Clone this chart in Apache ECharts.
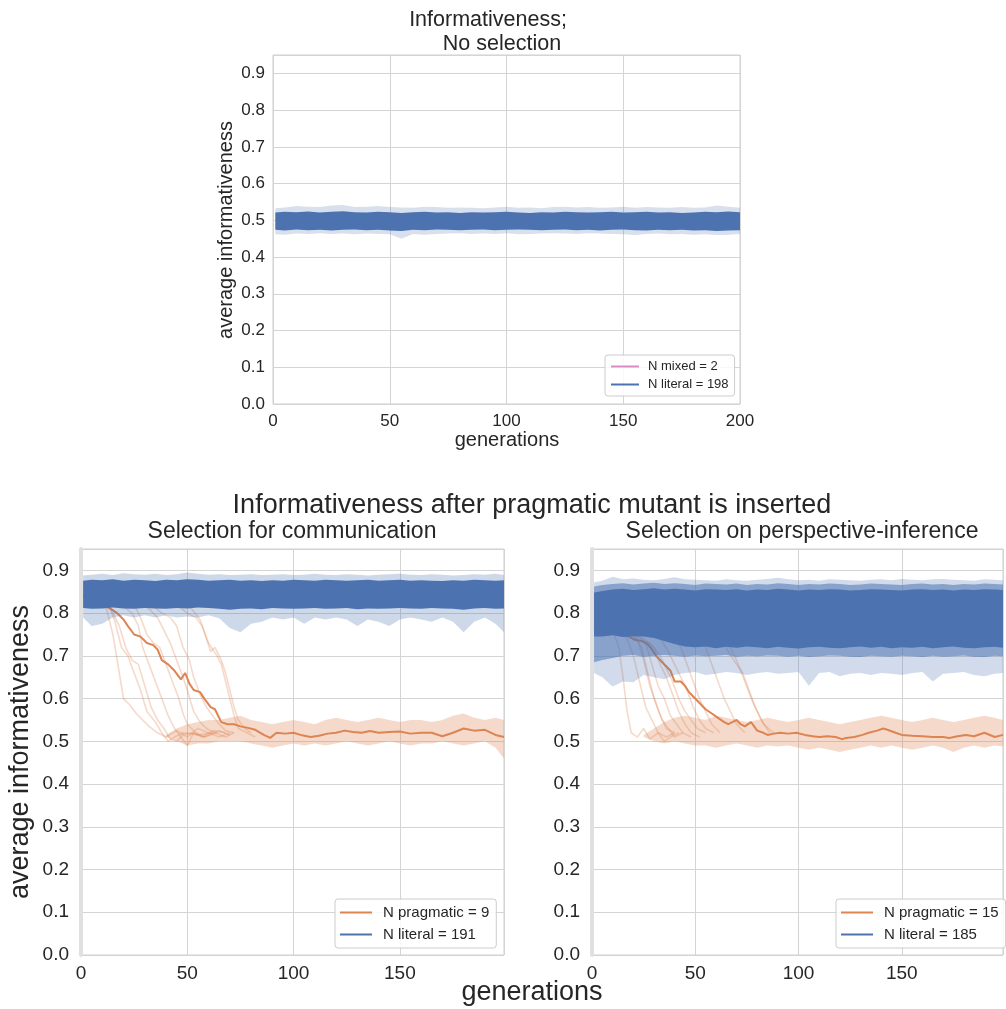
<!DOCTYPE html>
<html><head><meta charset="utf-8">
<script src="https://cdn.jsdelivr.net/npm/echarts@6/dist/echarts.min.js"></script>
<style>html,body{margin:0;padding:0;background:#fff}#c{width:1006px;height:1009px}</style>
</head><body><div id="c"></div><script>
// ---------- DATA ----------
const yTicks=[0.0,0.1,0.2,0.3,0.4,0.5,0.6,0.7,0.8,0.9];
const xTicks=[0,50,100,150,200];
const genTop=[1,5,10,15,20,25,30,35,40,45,50,55,60,65,70,75,80,85,90,95,100,105,110,115,120,125,130,135,140,145,150,155,160,165,170,175,180,185,190,195,200];
const genBot=[1,5,10,15,20,25,30,35,40,45,50,55,60,65,70,75,80,85,90,95,100,105,110,115,120,125,130,135,140,145,150,155,160,165,170,175,180,185,190,195,199];

// top panel: literal band (no selection)
const topCoreHi=[0.521,0.523,0.522,0.524,0.521,0.523,0.525,0.522,0.521,0.523,0.522,0.520,0.522,0.523,0.521,0.522,0.520,0.522,0.521,0.522,0.523,0.521,0.520,0.522,0.521,0.523,0.522,0.521,0.522,0.523,0.521,0.522,0.523,0.521,0.522,0.520,0.521,0.523,0.522,0.524,0.522];
const topCoreLo=[0.474,0.472,0.475,0.473,0.474,0.472,0.474,0.475,0.473,0.474,0.472,0.471,0.474,0.473,0.475,0.474,0.473,0.474,0.475,0.473,0.474,0.475,0.474,0.473,0.474,0.475,0.473,0.474,0.472,0.474,0.475,0.473,0.472,0.474,0.473,0.474,0.472,0.473,0.471,0.472,0.473];
const topOutHi=[0.533,0.535,0.539,0.537,0.536,0.540,0.542,0.536,0.537,0.539,0.536,0.535,0.534,0.537,0.536,0.534,0.535,0.534,0.533,0.535,0.537,0.534,0.535,0.533,0.536,0.537,0.535,0.536,0.534,0.535,0.537,0.534,0.536,0.535,0.534,0.536,0.534,0.535,0.540,0.537,0.534];
const topOutLo=[0.462,0.461,0.464,0.463,0.465,0.463,0.464,0.462,0.464,0.463,0.462,0.450,0.463,0.461,0.463,0.464,0.465,0.463,0.464,0.463,0.465,0.462,0.463,0.464,0.465,0.464,0.463,0.465,0.464,0.463,0.462,0.460,0.463,0.464,0.462,0.463,0.461,0.462,0.460,0.461,0.463];

// bottom-left: selection for communication, literal band
const blCoreHi=[0.876,0.878,0.877,0.879,0.876,0.878,0.877,0.875,0.878,0.877,0.879,0.878,0.876,0.877,0.878,0.876,0.877,0.875,0.877,0.876,0.878,0.877,0.876,0.878,0.877,0.876,0.877,0.878,0.876,0.877,0.878,0.876,0.877,0.876,0.875,0.877,0.876,0.878,0.877,0.876,0.877];
const blCoreLo=[0.812,0.810,0.811,0.813,0.811,0.810,0.812,0.811,0.810,0.812,0.811,0.813,0.812,0.810,0.808,0.810,0.811,0.809,0.812,0.811,0.810,0.811,0.812,0.810,0.811,0.812,0.809,0.811,0.810,0.811,0.812,0.811,0.810,0.812,0.811,0.810,0.808,0.811,0.812,0.810,0.811];
const blOutHi=[0.888,0.890,0.892,0.889,0.893,0.891,0.890,0.892,0.889,0.891,0.895,0.892,0.890,0.891,0.889,0.890,0.891,0.889,0.890,0.891,0.889,0.890,0.892,0.890,0.889,0.891,0.890,0.888,0.890,0.891,0.892,0.890,0.889,0.891,0.890,0.888,0.889,0.891,0.890,0.892,0.889];
const blOutLo=[0.790,0.770,0.775,0.790,0.795,0.790,0.795,0.790,0.795,0.790,0.792,0.790,0.795,0.788,0.765,0.755,0.775,0.780,0.790,0.785,0.790,0.775,0.790,0.785,0.790,0.785,0.770,0.785,0.780,0.770,0.785,0.790,0.785,0.780,0.790,0.780,0.755,0.780,0.790,0.775,0.755];

// bottom-left: pragmatic runs
const blMean=[[1,0.84],[5,0.835],[10,0.82],[14,0.81],[17,0.80],[20,0.785],[22,0.77],[25,0.75],[28,0.745],[31,0.73],[34,0.725],[36,0.715],[38,0.69],[41,0.68],[44,0.665],[47,0.645],[49,0.66],[51,0.635],[53,0.62],[56,0.615],[58,0.6],[61,0.58],[63,0.575],[66,0.545],[69,0.54],[72,0.54],[75,0.535],[78,0.532],[82,0.527],[86,0.515],[89,0.508],[92,0.52],[96,0.518],[100,0.52],[104,0.514],[108,0.51],[112,0.513],[116,0.518],[120,0.52],[124,0.525],[128,0.522],[132,0.52],[136,0.524],[140,0.52],[145,0.522],[150,0.523],[155,0.518],[160,0.52],[165,0.52],[170,0.512],[175,0.52],[180,0.53],[185,0.525],[190,0.527],[195,0.515],[199,0.51]];
const blRun1=[[1,0.84],[8,0.83],[12,0.81],[15,0.75],[18,0.66],[20,0.6],[23,0.585],[26,0.565],[29,0.55],[32,0.535],[36,0.52],[40,0.51],[45,0.525],[50,0.51],[55,0.53],[60,0.52],[65,0.51],[70,0.52]];
const blRun2=[[1,0.84],[10,0.83],[14,0.81],[18,0.77],[21,0.72],[24,0.69],[27,0.68],[30,0.63],[33,0.58],[36,0.55],[39,0.53],[42,0.505],[45,0.5],[48,0.515],[52,0.52],[58,0.51],[65,0.525],[70,0.515]];
const blRun3=[[1,0.84],[15,0.83],[20,0.815],[24,0.8],[27,0.77],[29,0.72],[32,0.68],[35,0.64],[38,0.6],[41,0.56],[44,0.53],[47,0.51],[50,0.49],[53,0.52],[57,0.51],[62,0.525],[68,0.52]];
const blRun4=[[1,0.84],[20,0.83],[28,0.825],[32,0.81],[36,0.79],[39,0.76],[42,0.73],[45,0.69],[48,0.65],[50,0.62],[53,0.57],[56,0.545],[59,0.53],[63,0.52],[68,0.51],[72,0.52]];
const blRun5=[[1,0.84],[25,0.83],[33,0.82],[38,0.80],[42,0.79],[45,0.77],[48,0.72],[51,0.69],[53,0.65],[56,0.61],[59,0.58],[62,0.56],[65,0.54],[68,0.525],[72,0.52]];
const blRun6=[[1,0.84],[30,0.83],[40,0.825],[45,0.82],[50,0.80],[54,0.79],[57,0.77],[60,0.73],[62,0.715],[64,0.70],[66,0.68],[68,0.64],[70,0.6],[72,0.56],[74,0.53],[78,0.52],[82,0.51]];
const blRun7=[[1,0.84],[35,0.835],[45,0.83],[52,0.81],[56,0.785],[59,0.74],[61,0.71],[63,0.72],[66,0.69],[68,0.66],[70,0.62],[72,0.58],[74,0.55],[77,0.53],[80,0.52]];
const blRun8=[[1,0.84],[10,0.83],[13,0.82],[16,0.78],[19,0.72],[22,0.7],[25,0.66],[28,0.62],[31,0.57],[35,0.545],[38,0.52],[41,0.5],[44,0.51],[48,0.52],[55,0.515],[62,0.52]];
const blRun9=[[1,0.84],[20,0.83],[25,0.82],[28,0.79],[31,0.75],[34,0.73],[37,0.72],[40,0.68],[43,0.64],[46,0.6],[48,0.565],[50,0.54],[54,0.52],[58,0.51],[64,0.52]];
const blBandGen=[40,45,50,55,60,65,70,75,80,85,90,95,100,105,110,115,120,125,130,135,140,145,150,155,160,165,170,175,180,185,190,195,199];
const blBandHi=[0.515,0.53,0.54,0.545,0.55,0.55,0.555,0.56,0.55,0.545,0.54,0.545,0.55,0.545,0.54,0.55,0.555,0.55,0.545,0.55,0.555,0.55,0.545,0.55,0.55,0.545,0.55,0.56,0.565,0.555,0.55,0.555,0.55];
const blBandLo=[0.51,0.50,0.49,0.495,0.495,0.50,0.50,0.50,0.495,0.49,0.485,0.49,0.495,0.49,0.495,0.49,0.495,0.50,0.495,0.49,0.495,0.50,0.495,0.49,0.495,0.495,0.50,0.495,0.49,0.495,0.50,0.485,0.46];

// bottom-right: selection on perspective-inference, literal band
const brCoreHi=[0.848,0.852,0.855,0.857,0.854,0.856,0.858,0.855,0.857,0.855,0.853,0.856,0.855,0.854,0.856,0.853,0.855,0.854,0.857,0.855,0.853,0.855,0.854,0.856,0.855,0.853,0.854,0.856,0.855,0.854,0.853,0.855,0.856,0.854,0.855,0.853,0.855,0.854,0.856,0.855,0.854];
const brCoreLo=[0.745,0.745,0.748,0.744,0.746,0.745,0.742,0.735,0.728,0.722,0.720,0.722,0.718,0.721,0.719,0.722,0.720,0.718,0.721,0.719,0.717,0.720,0.721,0.719,0.718,0.720,0.722,0.719,0.721,0.718,0.720,0.719,0.721,0.718,0.720,0.722,0.719,0.718,0.720,0.721,0.719];
const brMidHi=[0.862,0.866,0.868,0.870,0.867,0.869,0.871,0.868,0.870,0.868,0.866,0.869,0.868,0.867,0.869,0.866,0.868,0.867,0.870,0.868,0.866,0.868,0.867,0.869,0.868,0.866,0.867,0.869,0.868,0.867,0.866,0.868,0.869,0.867,0.868,0.866,0.868,0.867,0.869,0.868,0.867];
const brMidLo=[0.685,0.690,0.695,0.700,0.702,0.698,0.700,0.702,0.700,0.698,0.701,0.699,0.700,0.702,0.698,0.700,0.699,0.701,0.700,0.698,0.700,0.697,0.699,0.701,0.700,0.698,0.697,0.700,0.699,0.698,0.700,0.699,0.697,0.700,0.698,0.699,0.701,0.698,0.697,0.700,0.699];
const brOutHi=[0.872,0.876,0.885,0.879,0.881,0.878,0.877,0.880,0.884,0.879,0.878,0.877,0.876,0.879,0.877,0.876,0.878,0.880,0.883,0.879,0.877,0.878,0.876,0.879,0.878,0.877,0.876,0.878,0.879,0.877,0.880,0.878,0.877,0.879,0.880,0.878,0.877,0.876,0.879,0.878,0.877];
const brOutLo=[0.660,0.650,0.628,0.640,0.638,0.655,0.650,0.645,0.655,0.660,0.662,0.655,0.658,0.662,0.660,0.655,0.660,0.662,0.658,0.660,0.662,0.630,0.660,0.662,0.652,0.658,0.660,0.655,0.660,0.658,0.655,0.660,0.662,0.640,0.658,0.660,0.662,0.655,0.652,0.658,0.660];

// bottom-right: pragmatic runs
const brMean=[[1,0.77],[5,0.765],[10,0.76],[15,0.75],[18,0.745],[21,0.737],[24,0.735],[27,0.727],[29,0.715],[31,0.70],[34,0.685],[36,0.675],[38,0.665],[40,0.64],[43,0.64],[45,0.63],[47,0.615],[49,0.605],[51,0.595],[53,0.585],[55,0.575],[58,0.565],[61,0.555],[64,0.545],[66,0.54],[68,0.545],[70,0.55],[72,0.54],[74,0.535],[77,0.545],[80,0.525],[83,0.52],[85,0.515],[88,0.518],[91,0.52],[95,0.518],[99,0.52],[103,0.515],[107,0.512],[110,0.51],[114,0.512],[118,0.51],[121,0.505],[123,0.508],[127,0.51],[131,0.515],[134,0.52],[138,0.525],[141,0.53],[143,0.527],[147,0.52],[150,0.515],[155,0.513],[160,0.512],[165,0.51],[170,0.51],[173,0.508],[177,0.512],[181,0.515],[185,0.512],[190,0.52],[195,0.51],[199,0.515]];
const brRun1=[[1,0.77],[10,0.76],[13,0.72],[15,0.65],[17,0.57],[19,0.52],[22,0.51],[25,0.53],[28,0.505],[32,0.52],[36,0.51],[40,0.52]];
const brRun2=[[1,0.77],[14,0.76],[17,0.74],[20,0.70],[23,0.64],[26,0.58],[29,0.55],[32,0.52],[35,0.50],[38,0.51],[42,0.52]];
const brRun3=[[1,0.77],[18,0.76],[22,0.74],[25,0.69],[28,0.63],[31,0.59],[34,0.55],[37,0.53],[40,0.51],[44,0.52]];
const brRun4=[[1,0.77],[22,0.75],[26,0.73],[29,0.68],[32,0.63],[35,0.6],[38,0.56],[41,0.54],[44,0.52],[48,0.51]];
const brRun5=[[1,0.77],[25,0.74],[30,0.72],[33,0.68],[36,0.65],[39,0.61],[42,0.57],[45,0.54],[48,0.52],[52,0.51]];
const brRun6=[[1,0.77],[28,0.73],[33,0.70],[36,0.67],[39,0.64],[42,0.60],[45,0.57],[48,0.55],[51,0.53],[55,0.52]];
const brRun7=[[1,0.77],[32,0.75],[37,0.71],[40,0.68],[43,0.65],[46,0.62],[49,0.58],[52,0.55],[55,0.53],[59,0.52]];
const brRun8=[[1,0.77],[38,0.75],[43,0.72],[46,0.68],[49,0.64],[52,0.6],[55,0.57],[58,0.54],[62,0.52]];
const brRun9=[[1,0.77],[50,0.76],[55,0.72],[58,0.68],[61,0.64],[64,0.6],[67,0.57],[70,0.54],[74,0.52]];
const brRun10=[[1,0.77],[58,0.76],[62,0.74],[67,0.72],[70,0.69],[74,0.64],[78,0.59],[82,0.55],[86,0.52]];
const brRun11=[[1,0.77],[62,0.75],[66,0.71],[70,0.68],[73,0.66],[76,0.62],[79,0.58],[83,0.54],[88,0.52]];
const brRun12=[[1,0.77],[20,0.75],[24,0.72],[27,0.66],[30,0.6],[33,0.56],[36,0.53],[40,0.52]];
const brBandGen=[25,30,35,40,45,50,55,60,65,70,75,80,85,90,95,100,105,110,115,120,125,130,135,140,145,150,155,160,165,170,175,180,185,190,195,199];
const brBandHi=[0.515,0.53,0.545,0.555,0.56,0.555,0.55,0.56,0.555,0.55,0.545,0.55,0.555,0.55,0.545,0.55,0.555,0.55,0.545,0.54,0.545,0.55,0.555,0.56,0.555,0.55,0.545,0.55,0.555,0.55,0.545,0.55,0.555,0.56,0.555,0.55];
const brBandLo=[0.51,0.50,0.495,0.50,0.495,0.49,0.49,0.485,0.49,0.495,0.49,0.485,0.49,0.488,0.49,0.485,0.48,0.485,0.48,0.475,0.48,0.485,0.49,0.485,0.49,0.485,0.48,0.485,0.49,0.485,0.475,0.485,0.49,0.485,0.49,0.488];

// legend labels
const legTop=['N mixed = 2','N literal = 198'];
const legLeft=['N pragmatic = 9','N literal = 191'];
const legRight=['N pragmatic = 15','N literal = 185'];

// ---------- CHART ----------
const BLUE='#4c72b0', ORANGE='#dd8452', PINK='#da8bc3', TXT='#262626', GRID='#d4d4d4';
const FONT='"Liberation Sans", Arial, sans-serif';

function check(a,b,n){ if(a.length!==b.length) throw new Error('length mismatch '+n+' '+a.length+' '+b.length); }
// filled band between a lower and an upper envelope, positioned through the axes (api.coord)
function band(id, ax, xs, lo, hi, color, opacity, z){
  check(xs,lo,id+'lo'); check(xs,hi,id+'hi');
  return {type:'custom', id, xAxisIndex:ax, yAxisIndex:ax, data:xs.map((x,i)=>[x,lo[i],hi[i]]),
    encode:{x:0, y:[1,2]}, silent:true, z, animation:false, clip:true,
    renderItem:(params, api)=>{
      if(params.dataIndexInside!==0) return null;
      const n=params.dataInsideLength, top=[], bot=[];
      for(let i=0;i<n;i++){
        top.push(api.coord([api.value(0,i), api.value(2,i)]));
        bot.push(api.coord([api.value(0,i), api.value(1,i)]));
      }
      return {type:'polygon', shape:{points:top.concat(bot.reverse())}, style:{fill:color, opacity}};
    }};
}
function run(ax, d, z){
  return {type:'line', xAxisIndex:ax, yAxisIndex:ax, data:d, symbol:'none', silent:true, z, animation:false,
          lineStyle:{color:ORANGE, width:1.6, opacity:0.3}};
}
function dummy(ax, name, color){
  return {type:'line', name, xAxisIndex:ax, yAxisIndex:ax, data:[], symbol:'none', itemStyle:{color}, lineStyle:{color, width:2}};
}
function yFmt(v){ const k=v*10; return Math.abs(k-Math.round(k))<1e-6 ? (Math.round(k)/10).toFixed(1) : ''; }
function xFmt(v){ return (v%50===0) ? String(v) : ''; }

function xAxisCfg(gi, max, fs){
  return {type:'value', gridIndex:gi, min:0, max, interval:50,
    axisLine:{show:false}, axisTick:{show:false},
    axisLabel:{color:TXT, fontSize:fs, fontFamily:FONT, margin:9, formatter:xFmt, showMaxLabel:true},
    splitLine:{show:true, lineStyle:{color:GRID, width:1}}};
}
function yAxisCfg(gi, fs, thick){
  return {type:'value', gridIndex:gi, min:0, max:0.95, interval:0.1,
    axisLine:{show:thick, lineStyle:{color:'#e0e0e0', width:4}}, axisTick:{show:false},
    axisLabel:{color:TXT, fontSize:fs, fontFamily:FONT, margin:thick?12:8, formatter:yFmt},
    splitLine:{show:true, lineStyle:{color:GRID, width:1}}};
}
function legendCfg(names, left, top, fs, iw, gap, pad, tpad){
  return {data:names, left, top, orient:'vertical', icon:'rect', itemWidth:iw, itemHeight:2, itemGap:gap,
    selectedMode:false, textStyle:{color:TXT, fontSize:fs, fontFamily:FONT, padding:[0,0,0,tpad]},
    backgroundColor:'rgba(255,255,255,0.85)', borderColor:'#cccccc', borderWidth:1, borderRadius:3, padding:pad};
}
function txt(text, x, y, fs, rot){
  return {type:'text', x, y, rotation:rot||0, silent:true, z:100,
    style:{text, fontSize:fs, fontFamily:FONT, fill:TXT, textAlign:'center', textVerticalAlign:'middle'}};
}

const series=[];
// top
series.push(band('tOut',0,genTop,topOutLo,topOutHi,BLUE,0.22,4));
series.push(band('tCore',0,genTop,topCoreLo,topCoreHi,BLUE,1,5));
series.push(dummy(0,legTop[0],PINK), dummy(0,legTop[1],BLUE));
// bottom-left
[blRun1,blRun2,blRun3,blRun4,blRun5,blRun6,blRun7,blRun8,blRun9].forEach(r=>series.push(run(1,r,2)));
series.push(band('lOr',1,blBandGen,blBandLo,blBandHi,ORANGE,0.3,2));
series.push({type:'line', xAxisIndex:1, yAxisIndex:1, data:blMean, symbol:'none', silent:true, z:3, animation:false, lineStyle:{color:ORANGE, width:2}});
series.push(band('lOut',1,genBot,blOutLo,blOutHi,BLUE,0.28,4));
series.push(band('lCore',1,genBot,blCoreLo,blCoreHi,BLUE,1,5));
series.push(dummy(1,legLeft[0],ORANGE), dummy(1,legLeft[1],BLUE));
// bottom-right
[brRun1,brRun2,brRun3,brRun4,brRun5,brRun6,brRun7,brRun8,brRun9,brRun10,brRun11,brRun12].forEach(r=>series.push(run(2,r,2)));
series.push(band('rOr',2,brBandGen,brBandLo,brBandHi,ORANGE,0.3,2));
series.push({type:'line', xAxisIndex:2, yAxisIndex:2, data:brMean, symbol:'none', silent:true, z:3, animation:false, lineStyle:{color:ORANGE, width:2}});
series.push(band('rOut',2,genBot,brOutLo,brOutHi,BLUE,0.26,4));
series.push(band('rMid',2,genBot,brMidLo,brMidHi,BLUE,0.55,4));
series.push(band('rCore',2,genBot,brCoreLo,brCoreHi,BLUE,1,5));
series.push(dummy(2,legRight[0],ORANGE), dummy(2,legRight[1],BLUE));

const option={
  animation:false,
  backgroundColor:'#ffffff',
  grid:[
    {left:273, top:55, width:467, height:349, show:true, borderColor:'#cfcfcf', borderWidth:1, containLabel:false},
    {left:81, top:549, width:423, height:406, show:true, borderColor:'#cfcfcf', borderWidth:1, containLabel:false},
    {left:592, top:549, width:422, height:406, show:true, borderColor:'#cfcfcf', borderWidth:1, containLabel:false}
  ],
  xAxis:[xAxisCfg(0,200,17), xAxisCfg(1,199,19), xAxisCfg(2,199,19)],
  yAxis:[yAxisCfg(0,17,false), yAxisCfg(1,19,true), yAxisCfg(2,19,true)],
  legend:[
    legendCfg(legTop,605,355,13,28,5,[5,6,5,6],4),
    legendCfg(legLeft,335,899,15,32,7,[6,7,6,5],6),
    legendCfg(legRight,836,899,15,32,7,[6,7,6,5],6)
  ],
  graphic:[
    txt('Informativeness;',488,20,21.5),
    txt('No selection',502,44,21.5),
    txt('average informativeness',226,230,20,Math.PI/2),
    txt('generations',507,440,20),
    txt('Informativeness after pragmatic mutant is inserted',532,506,27),
    txt('Selection for communication',292,532,23),
    txt('Selection on perspective-inference',802,532,23),
    txt('average informativeness',21,752,27,Math.PI/2),
    txt('generations',532,993,27)
  ],
  series
};
const chart=echarts.init(document.getElementById('c'),null,{renderer:'canvas'});
chart.setOption(option);
</script></body></html>
